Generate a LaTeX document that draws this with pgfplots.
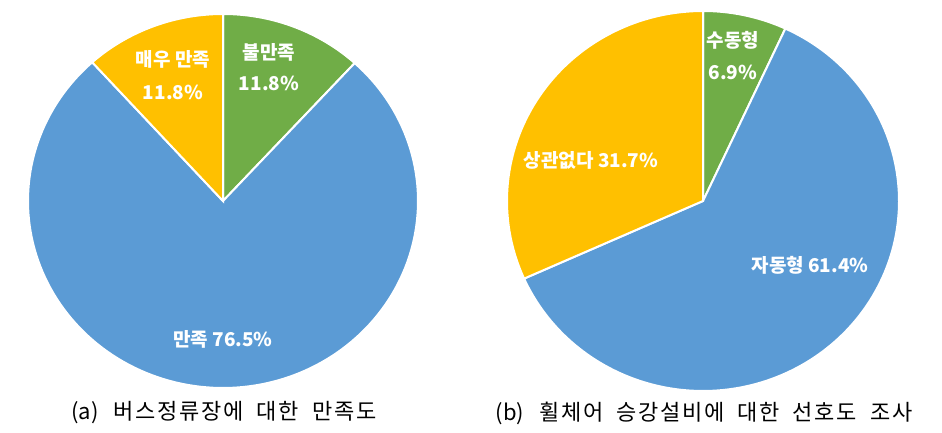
\documentclass[border=0pt]{standalone}
\usepackage{pgfplots}
\pgfplotsset{compat=1.18}
\usepackage{fontspec}
\setmainfont{Noto Sans CJK KR}
\newfontfamily\capfont[LetterSpace=8]{Noto Sans CJK KR}
\definecolor{cblue}{HTML}{5B9BD5}
\definecolor{cgreen}{HTML}{70AD47}
\definecolor{cyellow}{HTML}{FFC000}
\newcommand\gap{\hspace{13pt}}
% slice shares in percent
\def\LGreen{11.8}\def\LBlue{76.5}\def\LYellow{11.8}
\def\RGreen{6.9}\def\RBlue{61.4}\def\RYellow{31.7}
\begin{document}
\begin{tikzpicture}
\pgfmathsetmacro\La{90-3.6*\LGreen}
\pgfmathsetmacro\Lb{\La-3.6*\LBlue}
\pgfmathsetmacro\Ra{90-3.6*\RGreen}
\pgfmathsetmacro\Rb{\Ra-3.6*\RBlue}
\begin{axis}[scale only axis, width=942pt, height=433pt,
  xmin=0, xmax=942, ymin=0, ymax=433, hide axis, clip=false]
\path[draw=none] (rel axis cs:0,0) rectangle (rel axis cs:1,1);
% left pie: centre (223,232), radii 195 x 187
\addplot[fill=cgreen, draw=white, line width=2pt, domain=\La:90, samples=60]
  ({223+195*cos(x)},{232+187*sin(x)}) -- (axis cs:223,232) -- cycle;
\addplot[fill=cblue, draw=white, line width=2pt, domain=\Lb:\La, samples=150]
  ({223+195*cos(x)},{232+187*sin(x)}) -- (axis cs:223,232) -- cycle;
\addplot[fill=cyellow, draw=white, line width=2pt, domain=-270:\Lb, samples=60]
  ({223+195*cos(x)},{232+187*sin(x)}) -- (axis cs:223,232) -- cycle;
% right pie: centre (703,232), radii 196 x 190
\addplot[fill=cgreen, draw=white, line width=2pt, domain=\Ra:90, samples=60]
  ({703+196*cos(x)},{232+190*sin(x)}) -- (axis cs:703,232) -- cycle;
\addplot[fill=cblue, draw=white, line width=2pt, domain=\Rb:\Ra, samples=150]
  ({703+196*cos(x)},{232+190*sin(x)}) -- (axis cs:703,232) -- cycle;
\addplot[fill=cyellow, draw=white, line width=2pt, domain=-270:\Rb, samples=100]
  ({703+196*cos(x)},{232+190*sin(x)}) -- (axis cs:703,232) -- cycle;
% slice labels
\begin{scope}[every node/.style={text=white, font=\bfseries\fontsize{19}{22}\selectfont, inner sep=0pt}]
\node at (axis cs:173,374) {매우 만족};
\node at (axis cs:173,341) {11.8\%};
\node at (axis cs:269,381) {불만족};
\node at (axis cs:269,350) {11.8\%};
\node at (axis cs:223,94) {만족 76.5\%};
\node at (axis cs:733,393) {수동형};
\node at (axis cs:733,361) {6.9\%};
\node at (axis cs:591,273) {상관없다 31.7\%};
\node at (axis cs:810,168) {자동형 61.4\%};
\end{scope}
% captions
\node[font=\capfont\fontsize{22}{26}\selectfont, inner sep=0pt] at (axis cs:224,20) {{\rmfamily (a)}\hspace{15pt}버스정류장에\gap 대한\gap 만족도};
\node[font=\capfont\fontsize{22}{26}\selectfont, inner sep=0pt] at (axis cs:704,20) {{\rmfamily (b)}\hspace{15pt}휠체어\gap 승강설비에\gap 대한\gap 선호도\gap 조사};
\end{axis}
\end{tikzpicture}
\end{document}
